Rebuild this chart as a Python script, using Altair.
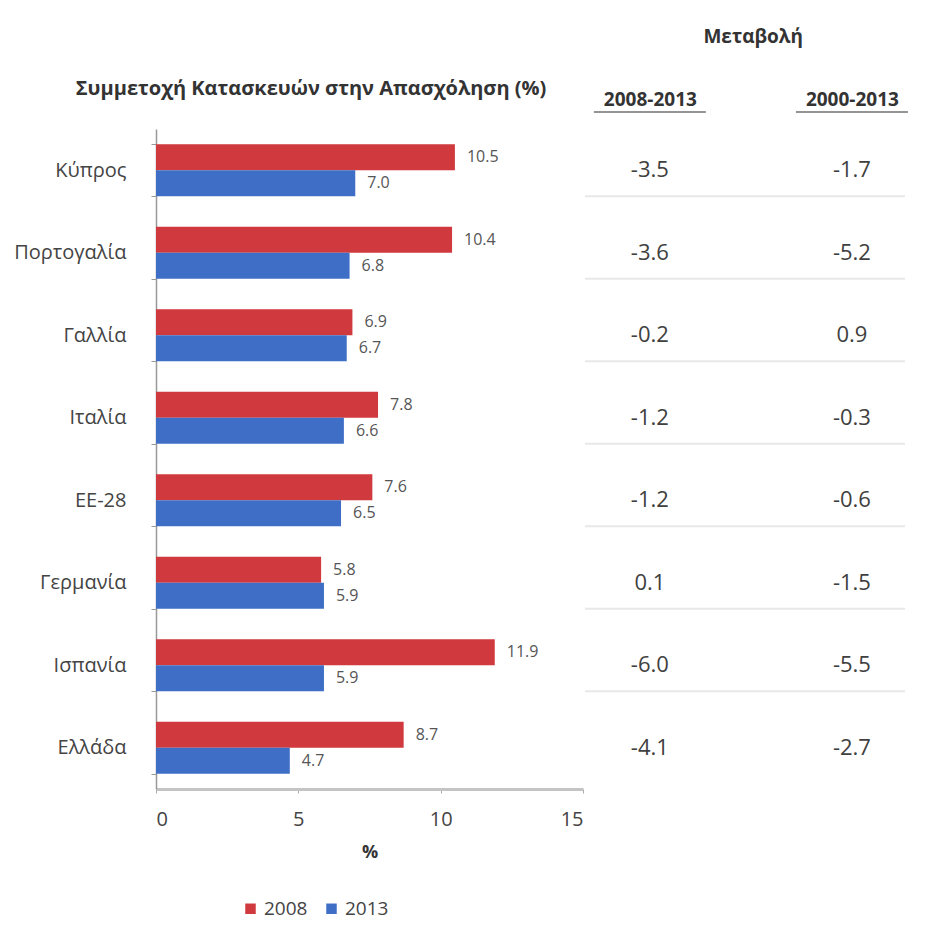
import altair as alt
import pandas as pd

countries = ["Κύπρος", "Πορτογαλία", "Γαλλία", "Ιταλία", "ΕΕ-28", "Γερμανία", "Ισπανία", "Ελλάδα"]
years = ["2008", "2013"]
share_2008 = [10.5, 10.4, 6.9, 7.8, 7.6, 5.8, 11.9, 8.7]
share_2013 = [7.0, 6.8, 6.7, 6.6, 6.5, 5.9, 5.9, 4.7]
change_cols = ["2008-2013", "2000-2013"]
change_0813 = [-3.5, -3.6, -0.2, -1.2, -1.2, 0.1, -6.0, -4.1]
change_0013 = [-1.7, -5.2, 0.9, -0.3, -0.6, -1.5, -5.5, -2.7]
x_ticks = [0, 5, 10, 15]

FONT = "Open Sans"
RED = "#D0393D"
BLUE = "#3E6EC6"
TXT = "#444444"

bars_df = pd.DataFrame({
    "country": countries * 2,
    "year": [years[0]] * len(countries) + [years[1]] * len(countries),
    "value": share_2008 + share_2013,
})
table_df = pd.DataFrame({
    "country": countries * 2,
    "col": [change_cols[0]] * len(countries) + [change_cols[1]] * len(countries),
    "value": change_0813 + change_0013,
})
sep_df = pd.DataFrame({"country": countries[:-1]})
hdr_df = pd.DataFrame({"col": change_cols})

y_scale = alt.Scale(domain=countries, paddingInner=0.37, paddingOuter=0.185)

y_left = alt.Y(
    "country:N", scale=y_scale,
    axis=alt.Axis(title=None, tickBand="extent", tickSize=5, tickColor="#999999",
                  domainColor="#999999", domainWidth=1.5, labelPadding=25,
                  labelFontSize=20, labelColor=TXT, labelFont=FONT, labelLimit=200),
)
x_left = alt.X(
    "value:Q", scale=alt.Scale(domain=[0, 15], nice=False),
    axis=alt.Axis(values=x_ticks, title="%", grid=False, domainColor="#c4c4c4",
                  domainWidth=3, tickColor="#aaaaaa", tickSize=4, labelPadding=16,
                  labelFontSize=20, labelColor=TXT, labelFont=FONT,
                  titleFont=FONT, titleFontSize=18, titleFontWeight="bold",
                  titleColor="#333333", titlePadding=14),
)
y_off = alt.YOffset("year:N", sort=years, scale=alt.Scale(paddingInner=0.0))

bars = alt.Chart(bars_df).mark_bar().encode(
    x=x_left, y=y_left, yOffset=y_off,
    color=alt.Color(
        "year:N", scale=alt.Scale(domain=years, range=[RED, BLUE]),
        legend=alt.Legend(orient="none", legendX=85, legendY=770, direction="horizontal",
                          title=None, symbolType="square", symbolSize=110,
                          labelFontSize=19, labelColor=TXT, labelFont=FONT,
                          columnPadding=14, symbolStrokeWidth=0),
    ),
)
bar_labels = alt.Chart(bars_df).mark_text(
    align="left", dx=12, fontSize=16, color="#555555", font=FONT
).encode(
    x=x_left, y=y_left, yOffset=y_off,
    text=alt.Text("value:Q", format=".1f"),
)

left = alt.layer(bars, bar_labels).properties(
    width=427, height=660,
    title=alt.TitleParams(
        text="Συμμετοχή Κατασκευών στην Απασχόληση (%)", anchor="start", frame="bounds",
        dx=62, offset=20, fontSize=20, font=FONT, fontWeight="bold", color="#333333",
    ),
)

x_right = alt.X(
    "col:N", sort=change_cols,
    scale=alt.Scale(type="point", padding=0.292, align=0.55),
    axis=alt.Axis(orient="top", title=None, ticks=False, domain=False, labelAngle=0,
                  labelFontSize=19, labelFontWeight="bold", labelFont=FONT,
                  labelColor="#333333", labelPadding=20),
)
y_right = alt.Y("country:N", scale=y_scale, axis=None)

separators = alt.Chart(sep_df).mark_rule(color="#e8e8e8", strokeWidth=2).encode(
    y=alt.Y("country:N", scale=y_scale, axis=None, bandPosition=1),
)
table_text = alt.Chart(table_df).transform_calculate(
    label="replace(format(datum.value, '.1f'), '\u2212', '-')"
).mark_text(fontSize=22, color="#404040", font=FONT).encode(
    x=x_right, y=y_right, text="label:N",
)
underline = alt.Chart(hdr_df).mark_tick(
    orient="horizontal", size=112, thickness=1.5, color="#333333"
).encode(x=x_right, y=alt.value(-17))

right = alt.layer(separators, table_text, underline).properties(width=320, height=660)

chart = alt.hconcat(left, right, spacing=0).properties(
    title=alt.TitleParams(
        text="Μεταβολή", anchor="end", dx=-105, offset=32, fontSize=19,
        font=FONT, fontWeight="bold", color="#333333",
    ),
    padding={"left": 5, "top": 20, "right": 5, "bottom": 5},
).configure_view(stroke=None)

chart.save("out.html", embed_options={"renderer": "svg", "actions": False})
